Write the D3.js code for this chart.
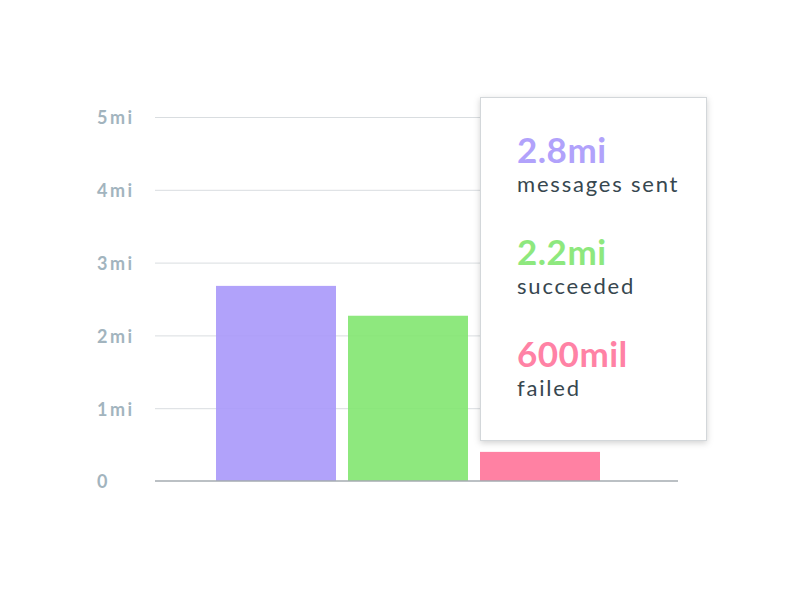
<!DOCTYPE html>
<html lang="en">
<head>
    <meta charset="UTF-8">
    <title>messages</title>
    <script src="https://cdn.jsdelivr.net/npm/d3@7"></script>
    <style>
        * {
            margin: 0;
            padding: 0;
        }
        body {
            background: #fff;
        }
    </style>
</head>
<body>
</body>
<script>
    const width = 800
    const height = 600

    // data
    const categories = ['messages sent', 'succeeded', 'failed']
    const values = [2.68, 2.27, 0.4]
    const valueLabels = ['2.8mi', '2.2mi', '600mil']
    const tickValues = [0, 1, 2, 3, 4, 5]
    const tickLabels = ['0', '1mi', '2mi', '3mi', '4mi', '5mi']
    const colors = ['#a898fa', '#82e570', '#ff7399']
    const textColors = ['#b1a2fb', '#8ee87e', '#ff82a5']

    const svg = d3.select('body')
        .append('svg')
        .attr('width', width)
        .attr('height', height)

    const defs = svg.append('defs')
    const shadow = defs.append('filter')
        .attr('id', 'shadow')
        .attr('x', '-20%').attr('y', '-20%')
        .attr('width', '140%').attr('height', '140%')
    shadow.append('feDropShadow')
        .attr('dx', 0).attr('dy', 2)
        .attr('stdDeviation', 3)
        .attr('flood-color', '#000')
        .attr('flood-opacity', 0.18)

    const plot = { left: 155, right: 678, top: 117, bottom: 481 }

    const xScale = d3.scaleBand()
        .domain(categories)
        .range([216, 600])
        .paddingInner(12 / 132)
        .paddingOuter(0)

    const yScale = d3.scaleLinear()
        .domain([0, 5])
        .range([plot.bottom, plot.top])

    // grid lines
    svg.append('g')
        .selectAll('line')
        .data(tickValues.filter(d => d > 0))
        .enter()
        .append('line')
        .attr('x1', plot.left)
        .attr('x2', plot.right)
        .attr('y1', d => yScale(d) + 0.5)
        .attr('y2', d => yScale(d) + 0.5)
        .attr('stroke', '#d9dde0')
        .attr('stroke-width', 1)

    // y axis labels
    const yAxis = d3.axisLeft(yScale)
        .tickValues(tickValues)
        .tickSize(0)
        .tickFormat((d, i) => tickLabels[i])

    const axisG = svg.append('g')
        .attr('transform', 'translate(97,0)')
        .call(yAxis)
    axisG.select('.domain').remove()
    axisG.selectAll('text')
        .attr('x', 0)
        .attr('dy', '0.38em')
        .attr('text-anchor', 'start')
        .attr('fill', '#a2b4be')
        .style('font-family', 'Lato, sans-serif')
        .style('font-weight', 'bold')
        .style('font-size', '18px')
        .style('letter-spacing', '2.5px')

    // bars
    svg.append('g')
        .selectAll('rect')
        .data(values)
        .enter()
        .append('rect')
        .attr('x', (d, i) => xScale(categories[i]))
        .attr('y', d => yScale(d))
        .attr('width', xScale.bandwidth())
        .attr('height', d => plot.bottom - yScale(d))
        .attr('fill', (d, i) => colors[i])
        .attr('fill-opacity', 0.9)

    // baseline
    svg.append('line')
        .attr('x1', plot.left)
        .attr('x2', plot.right)
        .attr('y1', yScale(0))
        .attr('y2', yScale(0))
        .attr('stroke', '#a4abb0')
        .attr('stroke-width', 1.5)

    // tooltip box
    const tip = svg.append('g')
        .attr('transform', 'translate(480,97)')
    tip.append('rect')
        .attr('x', 0.5).attr('y', 0.5)
        .attr('width', 226).attr('height', 343)
        .attr('fill', '#fff')
        .attr('stroke', '#d3d7da')
        .attr('stroke-width', 1)
        .attr('filter', 'url(#shadow)')

    const rows = tip.selectAll('.row')
        .data(categories)
        .enter()
        .append('g')
        .attr('class', 'row')
        .attr('transform', (d, i) => 'translate(37,' + (66 + i * 102) + ')')

    rows.append('text')
        .text((d, i) => valueLabels[i])
        .attr('fill', (d, i) => textColors[i])
        .style('font-family', 'Lato, sans-serif')
        .style('font-weight', 'bold')
        .style('font-size', '35px')
        .style('letter-spacing', '0.5px')

    rows.append('text')
        .attr('y', 29)
        .text(d => d)
        .attr('fill', '#37474f')
        .style('font-family', 'Lato, sans-serif')
        .style('font-size', '22px')
        .style('letter-spacing', '1.8px')
</script>
</html>
